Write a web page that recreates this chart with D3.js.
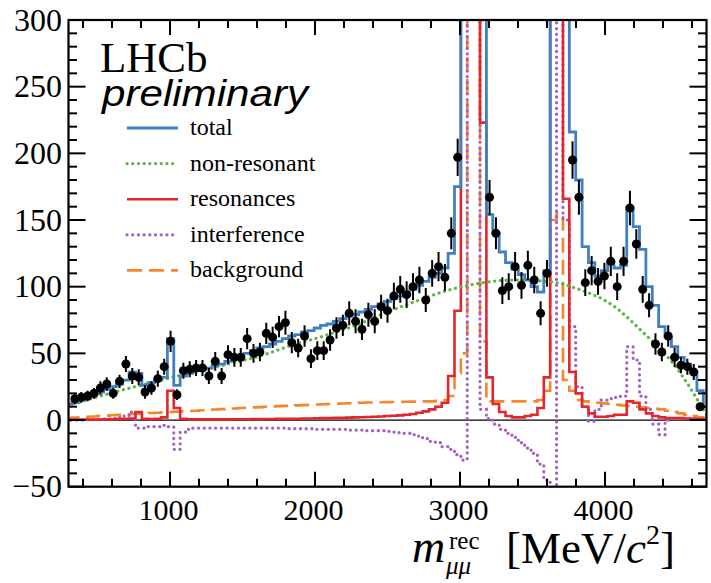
<!DOCTYPE html>
<html>
<head>
<meta charset="utf-8">
<script src="https://cdn.jsdelivr.net/npm/d3@7"></script>
<style>
  body { margin: 0; background: #fff; }
  text { font-family: "Liberation Serif", "Times New Roman", serif; fill: #000; }
</style>
</head>
<body>
<svg id="chart" width="711" height="583"></svg>
<script>
// ---- binning: 44 MeV bins centred on 300, 344, ..., 4700 ----
const massMin = 300, massMax = 4700, binWidth = 44;
const binIndex = d3.range(0, 101);

// ---- candidate counts per bin (null = outside the displayed range) ----
const counts = [null,
  16,17,18,20,24,27,20,29,42,33,
  32,21,24,31,40,59,19,37,38,39,
  39,33,44,33,49,47,47,61,50,51,
  65,62,70,73,58,54,63,46,52,52,
  60,69,71,80,74,68,79,74,85,82,
  93,98,94,100,105,90,110,115,107,140,
  197,null,null,null,null,167,140,97,100,115,
  101,116,105,80,110,null,null,null,195,167,
  103,112,104,108,119,100,119,159,132,98,
  86,57,51,63,47,41,40,36,10,null];

// statistical uncertainties on the counts
const countErrors = [null,
  4,4,4,4,5,5,4,5,6,6,
  6,5,5,6,6,8,4,6,6,6,
  6,6,7,6,7,7,7,8,7,7,
  8,8,8,9,8,7,8,7,7,7,
  8,8,8,9,9,8,9,9,9,9,
  10,10,10,10,10,9,10,11,10,12,
  14,null,null,null,null,13,12,10,10,11,
  10,11,10,9,10,null,null,null,14,13,
  10,11,10,10,11,10,11,13,11,10,
  9,8,7,8,7,6,6,6,3,null];

// ---- fit components per bin ----
const total = [12,
  13,15,17,19,21,23,25,27,30,36,
  35,26,28,30,32,61,26,33,35,37,
  38,39,41,42,44,46,48,50,52,54,
  55,57,59,61,63,64,66,67,69,71,
  72,74,76,78,79,81,83,85,87,89,
  91,93,95,98,101,104,107,110,114,125,
  175,1500,9000,4000,340,154,140,126,118,113,
  109,105,100,96,112,900,2500,400,216,180,
  130,118,108,112,118,114,116,159,145,128,
  100,86,70,62,55,47,42,36,22,10];

const resonances = [0.3,
  0.3,0.3,0.3,0.4,0.4,0.5,0.6,0.8,1.0,1.2,
  6,1.0,0.8,1,2,22,9,1,0.6,0.5,
  0.5,0.5,0.5,0.5,0.5,0.6,0.6,0.6,0.7,0.7,
  0.8,0.8,0.9,0.9,1,1,1.1,1.2,1.3,1.4,
  1.5,1.6,1.7,1.8,2,2.1,2.3,2.5,2.7,3,
  3.2,3.5,4,4.5,5.5,6.5,8,10,13,33,
  82,2000,8000,3000,223,32,12,6,3,2,
  2,3,4,9,32,1500,6000,166,36,20,
  10,5,2.5,2.5,3,4,4,14,13,8,
  5,3,2,1.5,1.5,1.5,1.2,1,0.8,0.5];

const interference = [0,
  0,0,0.2,0.3,0.5,0.8,1.2,2,3,6,
  -6,-6,-5,-5,-4,-5,-22,-9,-7,-6,
  -6,-6,-6,-6,-6,-6,-6,-6,-6,-6,
  -6,-6,-6,-6,-6.5,-6.5,-6.5,-6.5,-7,-7,
  -7,-7,-7,-7.5,-7.5,-7.5,-8,-8,-8,-8.5,
  -9,-9.5,-10,-11,-12,-14,-16,-17,-20,-22,
  -26,-30,2000,800,8,1,-3,-7,-10,-13,
  -17,-21,-25,-33,-45,-120,1000,150,70,25,
  10,-1,8,15,16,17,18,55,45,18,
  8,-3,-11,0,1,1,1,1,1,1];

const background = [1.5,
  1.8,2.1,2.4,2.7,3,3.3,3.6,3.9,4.2,4.5,
  4.8,5,5.3,5.5,5.8,6,6.3,6.6,6.8,7,
  7.3,7.6,7.9,8.2,8.5,8.7,9,9.2,9.5,9.7,
  10,10.2,10.4,10.6,10.8,11,11.2,11.4,11.6,11.8,
  12,12.2,12.4,12.6,12.8,13,13.1,13.2,13.3,13.4,
  13.5,13.6,13.7,13.8,13.9,14,14,14.5,15,18,
  35,50,3000,2000,59,14,14,14,14,14,
  14,14,14,15,22,150,155,30,22,15,
  14,13.5,13,12.5,12,11.5,11,10.5,10,9.5,
  9,8.5,8,7,6,5,4,3,2,1];

// non-resonant shape, sampled every 220 MeV
const nonResMass = [300,520,740,960,1180,1400,1620,1840,2060,2280,2500,
                    2720,2940,3160,3380,3600,3820,4040,4260,4480,4700];
const nonResonant = [11,18,24.5,30.5,36.5,42,48,56,63,71,81,
                     90,98,103,105,104,98,87,66,41,4];

// ---- axis ticks ----
const xMajorTicks = [1000, 2000, 3000, 4000];
const yMajorTicks = [-50, 0, 50, 100, 150, 200, 250, 300];

// ---- legend ----
const DOTS = "0.1,5.6";
const legendItems = [
  { label: "total",         color: "#3f80c2", dash: null,    width: 2.8 },
  { label: "non-resonant",  color: "#5cb548", dash: DOTS,    width: 3.2 },
  { label: "resonances",    color: "#e3262c", dash: null,    width: 2.6 },
  { label: "interference",  color: "#a35fc4", dash: DOTS,    width: 3.2 },
  { label: "background",    color: "#f5862a", dash: "15,7",  width: 2.6 }
];

const svg = d3.select("#chart");
const plot = { left: 68.5, right: 706.5, top: 20, bottom: 486.7 };

const x = d3.scaleLinear().domain([massMin, massMax]).range([plot.left, plot.right]);
const y = d3.scaleLinear().domain([-50, 300]).range([plot.bottom, plot.top]);

svg.append("defs").append("clipPath").attr("id", "plotClip")
  .append("rect")
  .attr("x", plot.left).attr("y", plot.top)
  .attr("width", plot.right - plot.left).attr("height", plot.bottom - plot.top);

const g = svg.append("g").attr("clip-path", "url(#plotClip)");

// zero line
g.append("line")
  .attr("x1", plot.left).attr("x2", plot.right)
  .attr("y1", y(0)).attr("y2", y(0))
  .attr("stroke", "#000").attr("stroke-width", 1.3);

function styleLine(sel, item) {
  return sel.attr("fill", "none")
    .attr("stroke", item.color)
    .attr("stroke-width", item.width)
    .attr("stroke-dasharray", item.dash)
    .attr("stroke-linecap", item.dash === DOTS ? "round" : "butt");
}

// histogram outline through bin edges
function stepPath(values) {
  const pts = binIndex.map(k => [massMin + binWidth * k - binWidth / 2, values[k]]);
  pts.push([massMin + binWidth * 100 + binWidth / 2, values[100]]);
  return d3.line().x(d => x(d[0])).y(d => y(d[1])).curve(d3.curveStepAfter)(pts);
}

function drawStep(values, item) {
  styleLine(g.append("path").attr("d", stepPath(values)), item);
}

drawStep(background, legendItems[4]);
drawStep(interference, legendItems[3]);
drawStep(resonances, legendItems[2]);

// non-resonant smooth curve
styleLine(g.append("path")
  .attr("d", d3.line().x((d, i) => x(nonResMass[i])).y(d => y(d)).curve(d3.curveMonotoneX)(nonResonant)),
  legendItems[1]);

drawStep(total, legendItems[0]);

// data points with error bars
const pts = binIndex.filter(k => counts[k] !== null)
  .map(k => ({ m: massMin + binWidth * k, v: counts[k], e: countErrors[k] }));

g.selectAll("line.err").data(pts).enter().append("line")
  .attr("class", "err")
  .attr("x1", d => x(d.m)).attr("x2", d => x(d.m))
  .attr("y1", d => y(d.v - d.e)).attr("y2", d => y(d.v + d.e))
  .attr("stroke", "#000").attr("stroke-width", 2);

g.selectAll("circle.pt").data(pts).enter().append("circle")
  .attr("class", "pt")
  .attr("cx", d => x(d.m)).attr("cy", d => y(d.v))
  .attr("r", 4.5).attr("fill", "#000");

// ---- frame and ticks (all four sides) ----
const axes = svg.append("g");
axes.append("rect")
  .attr("x", plot.left).attr("y", plot.top)
  .attr("width", plot.right - plot.left).attr("height", plot.bottom - plot.top)
  .attr("fill", "none").attr("stroke", "#000").attr("stroke-width", 2.2);

const xTicksAll = d3.range(400, 4701, 200);
xTicksAll.forEach(t => {
  const major = xMajorTicks.includes(t);
  const len = major ? 15 : 8;
  axes.append("line").attr("x1", x(t)).attr("x2", x(t))
    .attr("y1", plot.bottom).attr("y2", plot.bottom - len)
    .attr("stroke", "#000").attr("stroke-width", 2);
  axes.append("line").attr("x1", x(t)).attr("x2", x(t))
    .attr("y1", plot.top).attr("y2", plot.top + len)
    .attr("stroke", "#000").attr("stroke-width", 2);
});

const yTicksAll = d3.range(-50, 301, 10);
yTicksAll.forEach(t => {
  const major = yMajorTicks.includes(t);
  const len = major ? 17 : 8.5;
  axes.append("line").attr("x1", plot.left).attr("x2", plot.left + len)
    .attr("y1", y(t)).attr("y2", y(t))
    .attr("stroke", "#000").attr("stroke-width", 2);
  axes.append("line").attr("x1", plot.right).attr("x2", plot.right - len)
    .attr("y1", y(t)).attr("y2", y(t))
    .attr("stroke", "#000").attr("stroke-width", 2);
});

// tick labels
axes.selectAll("text.yl").data(yMajorTicks).enter().append("text")
  .attr("class", "yl")
  .attr("x", 62).attr("y", d => y(d) + 10.5)
  .attr("text-anchor", "end")
  .attr("font-size", 32)
  .text(d => d < 0 ? "\u2212" + Math.abs(d) : d);

axes.selectAll("text.xl").data(xMajorTicks).enter().append("text")
  .attr("class", "xl")
  .attr("x", d => x(d) - 1.5).attr("y", 519.5)
  .attr("text-anchor", "middle")
  .attr("font-size", 30)
  .text(d => d);

// axis title: m_{μμ}^{rec} [MeV/c^2]
axes.append("text").attr("x", 412).attr("y", 562)
  .attr("font-size", 46).attr("font-style", "italic").text("m");
axes.append("text").attr("x", 449).attr("y", 549)
  .attr("font-size", 25).text("rec");
axes.append("text").attr("x", 446).attr("y", 574)
  .attr("font-size", 25).attr("font-style", "italic").text("\u03bc\u03bc");
const unit = axes.append("text").attr("x", 506).attr("y", 563).attr("font-size", 45);
unit.append("tspan").text("[MeV/");
unit.append("tspan").attr("font-style", "italic").text("c");
unit.append("tspan").attr("font-size", 28).attr("dy", -19).text("2");
unit.append("tspan").attr("dy", 19).text("]");

// ---- labels and legend ----
svg.append("text").attr("x", 100).attr("y", 72).attr("font-size", 43).text("LHCb");
svg.append("text").attr("x", 102).attr("y", 106)
  .style("font-family", "'Liberation Sans', Arial, sans-serif")
  .attr("font-style", "italic").attr("font-size", 37)
  .attr("textLength", 206).attr("lengthAdjust", "spacingAndGlyphs")
  .text("preliminary");

const legend = svg.append("g");
legendItems.forEach((item, i) => {
  const yy = 128 + i * 35.6;
  styleLine(legend.append("line")
    .attr("x1", 127).attr("x2", 178).attr("y1", yy).attr("y2", yy), item);
  legend.append("text")
    .attr("x", 190).attr("y", yy + 7)
    .attr("font-size", 24)
    .text(item.label);
});
</script>
</body>
</html>
